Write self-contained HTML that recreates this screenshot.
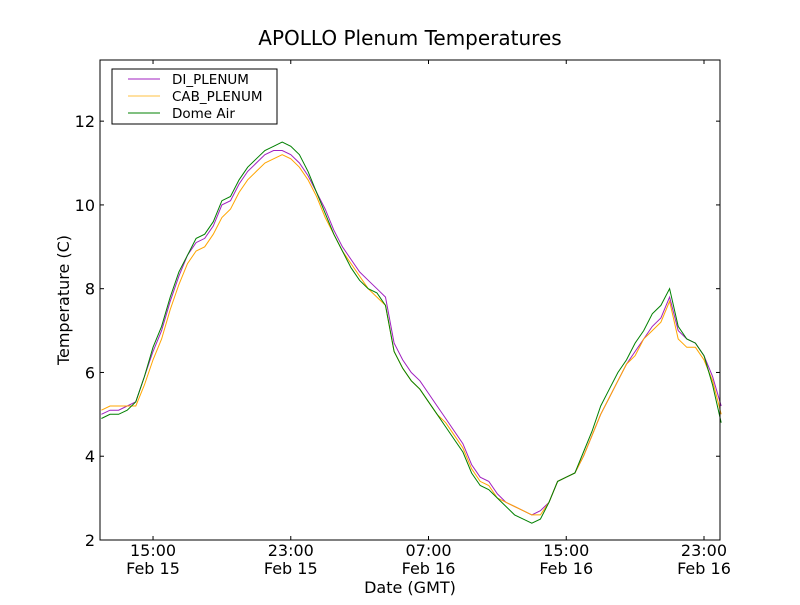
<!DOCTYPE html>
<html><head><meta charset="utf-8"><style>
body{margin:0;background:#fff;}
svg text{font-family:"DejaVu Sans","Liberation Sans",sans-serif;}
</style></head><body>
<svg id="chart" width="800" height="600" xmlns="http://www.w3.org/2000/svg">
<rect x="0" y="0" width="800" height="600" fill="#fff"/>
<text x="410" y="45" font-size="20" text-anchor="middle">APOLLO Plenum Temperatures</text>
<g id="plot"></g>
<rect x="100" y="60" width="620" height="480" fill="none" stroke="#000" stroke-width="1"/>
<g id="ticks"></g>
<text x="410" y="593" font-size="16" text-anchor="middle">Date (GMT)</text>
<text transform="translate(69,300) rotate(-90)" font-size="16" text-anchor="middle">Temperature (C)</text>
<g>
<rect x="112" y="69" width="165" height="55" fill="#fff" stroke="#000" stroke-width="1"/>
<g><line x1="128" y1="79" x2="160" y2="79" stroke="#a020c0"/><text x="172" y="84" font-size="13.5">DI_PLENUM</text></g>
<g><line x1="128" y1="96" x2="160" y2="96" stroke="#ffc040"/><text x="172" y="101" font-size="13.5">CAB_PLENUM</text></g>
<g><line x1="128" y1="113" x2="160" y2="113" stroke="#008000"/><text x="172" y="118" font-size="13.5">Dome Air</text></g>
</g>
</svg>
<script>
const startHour = 12, stepHours = 0.5;
const diPlenum = [5.0,5.1,5.1,5.2,5.3,5.9,6.5,7.0,7.7,8.3,8.8,9.1,9.2,9.5,10.0,10.1,10.5,10.8,11.0,11.2,11.3,11.3,11.2,11.0,10.7,10.3,9.9,9.4,9.0,8.7,8.4,8.2,8.0,7.8,6.7,6.3,6.0,5.8,5.5,5.2,4.9,4.6,4.3,3.8,3.5,3.4,3.1,2.9,2.8,2.7,2.6,2.7,2.9,3.4,3.5,3.6,4.0,4.5,5.0,5.4,5.8,6.2,6.5,6.8,7.1,7.3,7.8,7.0,6.8,6.7,6.4,5.9,5.2];
const cabPlenum = [5.1,5.2,5.2,5.2,5.2,5.7,6.3,6.8,7.5,8.1,8.6,8.9,9.0,9.3,9.7,9.9,10.3,10.6,10.8,11.0,11.1,11.2,11.1,10.9,10.6,10.2,9.7,9.3,8.9,8.6,8.3,8.0,7.8,7.6,6.5,6.1,5.8,5.6,5.3,5.0,4.8,4.5,4.2,3.7,3.4,3.3,3.0,2.9,2.8,2.7,2.6,2.6,2.9,3.4,3.5,3.6,4.0,4.5,5.0,5.4,5.8,6.2,6.4,6.8,7.0,7.2,7.7,6.8,6.6,6.6,6.3,5.8,5.0];
const domeAir = [4.9,5.0,5.0,5.1,5.3,5.9,6.6,7.1,7.8,8.4,8.8,9.2,9.3,9.6,10.1,10.2,10.6,10.9,11.1,11.3,11.4,11.5,11.4,11.2,10.8,10.3,9.8,9.3,8.9,8.5,8.2,8.0,7.9,7.6,6.5,6.1,5.8,5.6,5.3,5.0,4.7,4.4,4.1,3.6,3.3,3.2,3.0,2.8,2.6,2.5,2.4,2.5,2.9,3.4,3.5,3.6,4.1,4.6,5.2,5.6,6.0,6.3,6.7,7.0,7.4,7.6,8.0,7.1,6.8,6.7,6.4,5.7,4.8];
const xTickHours = [15,23,31,39,47];
const xTickTimes = ["15:00","23:00","07:00","15:00","23:00"];
const xTickDates = ["Feb 15","Feb 15","Feb 16","Feb 16","Feb 16"];
const yTicks = [2,4,6,8,10,12];

const X0=100,X1=720,Y0=540,Y1=60;
const xMin=11.92,xMax=47.93,yMin=2,yMax=13.46;
const xs=h=>X0+(h-xMin)/(xMax-xMin)*(X1-X0);
const ys=v=>Y0-(v-yMin)/(yMax-yMin)*(Y0-Y1);
const NS="http://www.w3.org/2000/svg";
const plot=document.getElementById('plot'), ticks=document.getElementById('ticks');
function mk(tag,attrs,parent){const e=document.createElementNS(NS,tag);for(const k in attrs)e.setAttribute(k,attrs[k]);parent.appendChild(e);return e;}
const series=[[diPlenum,'#a020c0','di-plenum-line'],[cabPlenum,'#ffa500','cab-plenum-line'],[domeAir,'#008000','dome-air-line']];
series.forEach(([arr,col,name])=>{
  const pts=arr.map((v,i)=>xs(startHour+i*stepHours).toFixed(1)+','+ys(v).toFixed(1)).join(' ');
  const p=mk('polyline',{points:pts,fill:'none',stroke:col,'stroke-width':1},plot);
  
  
});
xTickHours.forEach((h,i)=>{
  const x=xs(h);
  mk('line',{x1:x,y1:Y0,x2:x,y2:Y0-4,stroke:'#000'},ticks);
  mk('line',{x1:x,y1:Y1,x2:x,y2:Y1+4,stroke:'#000'},ticks);
  const t=mk('text',{x:x,y:556,'font-size':16,'text-anchor':'middle'},ticks);
  t.textContent=xTickTimes[i];
  
  
  const d=mk('text',{x:x,y:574,'font-size':16,'text-anchor':'middle'},ticks);
  d.textContent=xTickDates[i];
  
  
});
yTicks.forEach(v=>{
  const y=ys(v);
  mk('line',{x1:X0,y1:y,x2:X0+4,y2:y,stroke:'#000'},ticks);
  mk('line',{x1:X1,y1:y,x2:X1-4,y2:y,stroke:'#000'},ticks);
  const t=mk('text',{x:95,y:y+6,'font-size':16,'text-anchor':'end'},ticks);
  t.textContent=v;
  
  
});
</script>
</body></html>
